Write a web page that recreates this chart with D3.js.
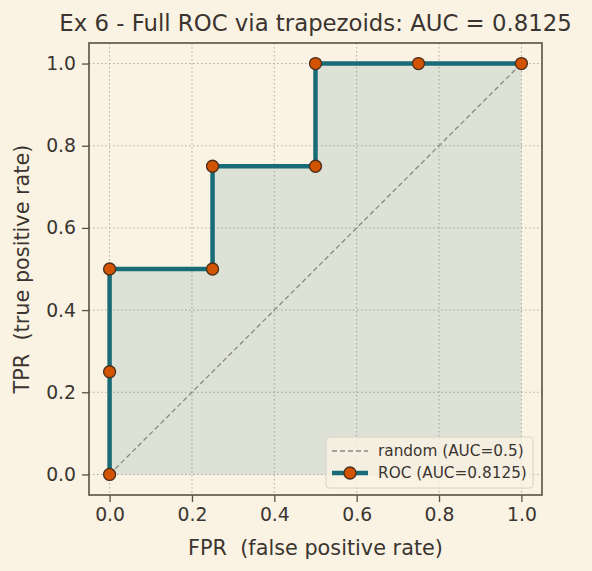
<!DOCTYPE html>
<html>
<head>
<meta charset="utf-8">
<script src="https://cdn.jsdelivr.net/npm/d3@7"></script>
<style>
  body { margin: 0; background: #faf3e3; }
  text { font-family: "DejaVu Sans", sans-serif; fill: #3b3430; white-space: pre; }
</style>
</head>
<body>
<svg id="chart"></svg>
<script>
// ROC points
const fpr = [0, 0, 0, 0.25, 0.25, 0.5, 0.5, 0.75, 1];
const tpr = [0, 0.25, 0.5, 0.5, 0.75, 0.75, 1, 1, 1];
const ticks = [0, 0.2, 0.4, 0.6, 0.8, 1.0];
const title = 'Ex 6 - Full ROC via trapezoids: AUC = 0.8125';
const legendLabels = ['random (AUC=0.5)', 'ROC (AUC=0.8125)'];

const width = 592, height = 571;
const margin = {top: 43, right: 50, bottom: 76, left: 89};
const iw = width - margin.left - margin.right;
const ih = height - margin.top - margin.bottom;

const svg = d3.select('#chart').attr('width', width).attr('height', height);
svg.append('rect').attr('width', width).attr('height', height).attr('fill', '#faf3e3');

const g = svg.append('g').attr('transform', `translate(${margin.left},${margin.top})`);

const x = d3.scaleLinear().domain([-0.05, 1.05]).range([0, iw]);
const y = d3.scaleLinear().domain([-0.05, 1.05]).range([ih, 0]);

const pts = fpr.map((f, i) => ({x: f, y: tpr[i]}));

// grid
g.selectAll('.gx').data(ticks).enter().append('line')
  .attr('x1', d => x(d)).attr('x2', d => x(d)).attr('y1', 0).attr('y2', ih)
  .attr('stroke', '#b0aba0').attr('stroke-width', 1).attr('stroke-dasharray', '1.5,2.5');
g.selectAll('.gy').data(ticks).enter().append('line')
  .attr('y1', d => y(d)).attr('y2', d => y(d)).attr('x1', 0).attr('x2', iw)
  .attr('stroke', '#b0aba0').attr('stroke-width', 1).attr('stroke-dasharray', '1.5,2.5');

// area under curve
const area = d3.area().x(d => x(d.x)).y0(y(0)).y1(d => y(d.y));
g.append('path').datum(pts).attr('d', area)
  .attr('fill', '#1a6b78').attr('fill-opacity', 0.12);

// random diagonal
g.append('line')
  .attr('x1', x(0)).attr('y1', y(0)).attr('x2', x(1)).attr('y2', y(1))
  .attr('stroke', '#888a80').attr('stroke-width', 1.3).attr('stroke-dasharray', '5,3');

// ROC line
const line = d3.line().x(d => x(d.x)).y(d => y(d.y));
g.append('path').datum(pts).attr('d', line)
  .attr('fill', 'none').attr('stroke', '#1a6b78').attr('stroke-width', 4.5);

g.selectAll('.pt').data(pts).enter().append('circle')
  .attr('cx', d => x(d.x)).attr('cy', d => y(d.y)).attr('r', 6)
  .attr('fill', '#d35400').attr('stroke', '#4a2e1e').attr('stroke-width', 1.3);

// axes
const xAxis = g.append('g').attr('transform', `translate(0,${ih})`)
  .call(d3.axisBottom(x).tickValues(ticks).tickFormat(d3.format('.1f')).tickSize(7).tickPadding(6));
const yAxis = g.append('g')
  .call(d3.axisLeft(y).tickValues(ticks).tickFormat(d3.format('.1f')).tickSize(7).tickPadding(6));
[xAxis, yAxis].forEach(a => {
  a.select('.domain').remove();
  a.selectAll('line').attr('stroke', '#5a4e42').attr('stroke-width', 1.3);
  a.selectAll('text').style('font-size', '18.8px').style('font-family', '"DejaVu Sans", sans-serif').attr('fill', '#3b3430');
});

// spines
g.append('rect').attr('width', iw).attr('height', ih)
  .attr('fill', 'none').attr('stroke', '#5a4e42').attr('stroke-width', 1.6);

// labels
svg.append('text').attr('x', margin.left + iw / 2).attr('y', 31)
  .attr('text-anchor', 'middle').style('font-size', '22.8px').text(title);
svg.append('text').attr('x', margin.left + iw / 2).attr('y', 555)
  .attr('text-anchor', 'middle').style('font-size', '20.8px').text('FPR  (false positive rate)');
svg.append('text').attr('transform', `translate(29,${margin.top + ih / 2}) rotate(-90)`)
  .attr('text-anchor', 'middle').style('font-size', '20.8px').text('TPR  (true positive rate)');

// legend
const lg = g.append('g').attr('transform', `translate(${iw - 216},${ih - 58})`);
lg.append('rect').attr('width', 207).attr('height', 51).attr('rx', 3)
  .attr('fill', '#faf3e3').attr('fill-opacity', 0.8).attr('stroke', '#d6d2c8');
lg.append('line').attr('x1', 6).attr('x2', 42).attr('y1', 14).attr('y2', 14)
  .attr('stroke', '#888a80').attr('stroke-width', 1.3).attr('stroke-dasharray', '5,3');
lg.append('line').attr('x1', 6).attr('x2', 42).attr('y1', 36).attr('y2', 36)
  .attr('stroke', '#1a6b78').attr('stroke-width', 4.5);
lg.append('circle').attr('cx', 24).attr('cy', 36).attr('r', 6)
  .attr('fill', '#d35400').attr('stroke', '#4a2e1e').attr('stroke-width', 1.3);
lg.selectAll('.lt').data(legendLabels).enter().append('text')
  .attr('x', 52).attr('y', (d, i) => 14 + i * 22).attr('dy', '0.35em')
  .style('font-size', '15.3px').text(d => d);
</script>
</body>
</html>
